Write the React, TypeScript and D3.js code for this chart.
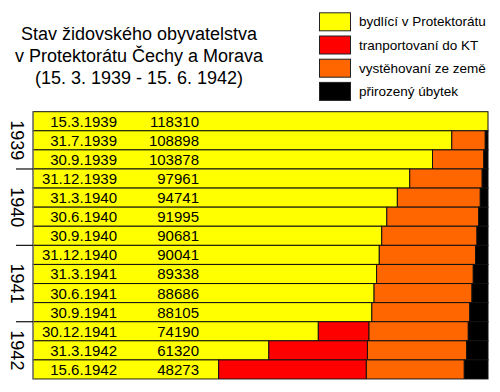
import React from "react";
import * as d3 from "d3";

const dates = [
  "15.3.1939", "31.7.1939", "30.9.1939", "31.12.1939", "31.3.1940", "30.6.1940", "30.9.1940",
  "31.12.1940", "31.3.1941", "30.6.1941", "30.9.1941", "30.12.1941", "31.3.1942", "15.6.1942",
];
const living = [118310, 108898, 103878, 97961, 94741, 91995, 90681, 90041, 89338, 88686, 88105, 74190, 61320, 48273];
const transported = [0, 0, 0, 0, 0, 0, 0, 0, 0, 0, 0, 13180, 25640, 38400];
const emigrated = [0, 8700, 13340, 18840, 21566, 23896, 24768, 25018, 25149, 25463, 25472, 25817, 25811, 25474];
const naturalLoss = [0, 712, 1092, 1509, 2003, 2419, 2861, 3251, 3823, 4161, 4733, 5123, 5539, 6163];

const years = ["1939", "1940", "1941", "1942"];
const yearFirstRow = [0, 3, 7, 11];
const yearLastRow = [2, 6, 10, 13];

const legendLabels = ["bydlící v Protektorátu", "tranportovaní do KT", "vystěhovaní ze země", "přirozený úbytek"];
const keys = ["living", "transported", "emigrated", "naturalLoss"];
const colors = ["#ffff00", "#ff0000", "#ff6600", "#000000"];

const titleLines = ["Stav židovského obyvatelstva", "v Protektorátu Čechy a Morava", "(15. 3. 1939 - 15. 6. 1942)"];

const W = 500;
const H = 392;
const font = "'Liberation Sans', Arial, sans-serif";

export default function App() {
  const rows = dates.map((d, i) => ({
    date: d,
    living: living[i],
    transported: transported[i],
    emigrated: emigrated[i],
    naturalLoss: naturalLoss[i],
  }));
  const series = d3.stack<any>().keys(keys)(rows);

  const x = d3.scaleLinear().domain([0, 118310]).range([33, 488]);
  const y = d3.scaleBand<string>().domain(dates).range([111.7, 379]).paddingInner(0);
  const color = d3.scaleOrdinal<string, string>().domain(keys).range(colors);
  const bw = y.bandwidth();

  return (
    <svg width={W} height={H} style={{ position: "absolute", left: 0, top: 0, fontFamily: font }}>
      <rect width={W} height={H} fill="#fff" />
      {titleLines.map((t, i) => (
        <text key={t} x={139} y={39.5 + i * 22} textAnchor="middle" fontSize={18} fill="#000">
          {t}
        </text>
      ))}

      {legendLabels.map((l, i) => (
        <g key={l} transform={`translate(319,${12.3 + i * 23.2})`}>
          <rect x={0.5} y={0.5} width={31} height={18} fill={colors[i]} stroke="#222" strokeWidth={1} />
          <text x={40} y={14} fontSize={13.5} fill="#000">
            {l}
          </text>
        </g>
      ))}

      {series.map(s => (
        <g key={s.key} fill={color(s.key)}>
          {s.map((d, i) =>
            d[1] - d[0] > 0 ? (
              <rect
                key={i}
                x={x(d[0])}
                y={y(dates[i])!}
                width={x(d[1]) - x(d[0])}
                height={bw}
                stroke="#111"
                strokeWidth={1}
              />
            ) : null,
          )}
        </g>
      ))}

      <line x1={33} x2={33} y1={111.7} y2={379.5} stroke="#888" strokeWidth={1.2} />
      <line x1={33} x2={488} y1={379.5} y2={379.5} stroke="#999" strokeWidth={1.2} />

      {dates.map((d, i) => (
        <g key={d} fontSize={15} fill="#000">
          <text x={117} y={y(d)! + bw / 2 + 5.5} textAnchor="end">
            {d}
          </text>
          <text x={199} y={y(d)! + bw / 2 + 5.5} textAnchor="end">
            {living[i]}
          </text>
        </g>
      ))}

      {yearFirstRow.slice(1).map((r, i) => (
        <line key={i} x1={16} x2={33} y1={y(dates[r])!} y2={y(dates[r])!} stroke="#111" strokeWidth={1.2} />
      ))}

      {years.map((yr, i) => {
        const cy = (y(dates[yearFirstRow[i]])! + y(dates[yearLastRow[i]])! + bw) / 2;
        return (
          <text
            key={yr}
            transform={`translate(17,${cy}) rotate(90)`}
            textAnchor="middle"
            dy="0.35em"
            fontSize={18}
            fill="#000"
          >
            {yr}
          </text>
        );
      })}
    </svg>
  );
}
